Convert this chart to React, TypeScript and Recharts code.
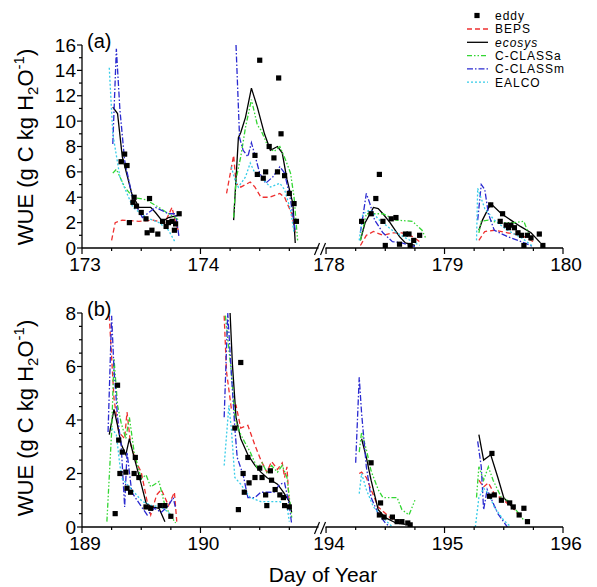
import { ComposedChart, Line, Scatter, XAxis, YAxis, ReferenceDot } from 'recharts'

type Pt = [number, number] | null

const FONT = '"Liberation Sans", Arial, sans-serif'

// ---- panel (a): days 173-174 | 178-179 ----
const eddyA: Pt[] = [
  [173.33, 6.8], [173.36, 7.4], [173.38, 6.5], [173.4, 2.0], [173.43, 3.6], [173.44, 4.0], [173.46, 3.3],
  [173.5, 2.8], [173.54, 2.3], [173.55, 1.2], [173.57, 3.9], [173.59, 1.4], [173.64, 1.1], [173.68, 2.1],
  [173.71, 1.7], [173.73, 2.0], [173.76, 2.1], [173.78, 1.4], [173.79, 1.9], [173.82, 2.7],
  [174.46, 7.3], [174.48, 5.8], [174.5, 14.8], [174.53, 5.5], [174.55, 6.0], [174.58, 8.0], [174.62, 7.1],
  [174.65, 6.0], [174.66, 13.4], [174.68, 9.0], [174.71, 5.7], [174.75, 4.3], [174.79, 3.5], [174.81, 2.1],
  [178.3, 2.1], [178.38, 2.7], [178.42, 3.9], [178.45, 5.8], [178.48, 2.1], [178.5, 0.2], [178.55, 2.3],
  [178.59, 2.4], [178.62, 0.3], [178.67, 1.1], [178.7, 1.1], [178.71, 0.2], [178.74, 0.6], [178.79, 1.0],
  [179.39, 3.4], [179.47, 2.1], [179.49, 2.7], [179.52, 1.8], [179.54, 1.6], [179.56, 1.8], [179.59, 1.6],
  [179.62, 1.2], [179.65, 1.0], [179.67, 0.2], [179.7, 1.0], [179.73, 0.8], [179.8, 1.1], [179.83, 0.2],
]
const bepsA: Pt[] = [
  [173.25, 0.6], [173.28, 2.0], [173.34, 2.2], [173.48, 2.1], [173.6, 2.2], [173.7, 2.0], [173.76, 3.2], [173.79, 2.0], [173.82, 1.2],
  null,
  [174.22, 4.3], [174.28, 7.3], [174.3, 5.1], [174.34, 4.8], [174.42, 5.2], [174.46, 4.8], [174.51, 4.0],
  [174.58, 4.0], [174.67, 4.3], [174.71, 4.0], [174.77, 2.7], [174.8, 1.2],
  null,
  [178.29, 0.2], [178.34, 1.0], [178.4, 1.3], [178.48, 1.0], [178.56, 1.2], [178.64, 1.2], [178.73, 0.9], [178.79, 0.5],
  null,
  [179.29, 0.6], [179.34, 1.3], [179.42, 1.4], [179.53, 1.2], [179.65, 1.0], [179.75, 0.5],
]
const ecosysA: Pt[] = [
  [173.26, 11.1], [173.3, 10.6], [173.34, 7.2], [173.42, 4.3], [173.48, 3.2], [173.58, 3.2], [173.62, 2.8],
  [173.68, 2.1], [173.73, 2.4], [173.82, 2.6],
  null,
  [174.28, 2.2], [174.32, 8.7], [174.34, 9.1], [174.38, 10.3], [174.43, 12.6], [174.48, 11.1], [174.54, 9.0],
  [174.59, 7.7], [174.65, 8.0], [174.69, 7.5], [174.73, 5.4], [174.78, 3.5], [174.8, 0.4],
  null,
  [178.29, 0.6], [178.33, 2.0], [178.4, 3.2], [178.44, 3.1], [178.48, 2.7], [178.54, 2.0], [178.62, 0.9], [178.67, 0.4], [178.75, 0.2],
  null,
  [179.29, 1.4], [179.32, 2.2], [179.39, 3.5], [179.48, 2.7], [179.56, 2.2], [179.64, 1.7], [179.73, 1.2], [179.81, 0.4],
]
const cclassaA: Pt[] = [
  [173.26, 5.9], [173.29, 6.2], [173.32, 5.6], [173.36, 4.8], [173.43, 4.0], [173.54, 3.8], [173.65, 3.2], [173.73, 2.7], [173.82, 2.2],
  null,
  [174.28, 2.4], [174.3, 5.4], [174.34, 7.2], [174.38, 9.5], [174.43, 11.7], [174.48, 9.7], [174.51, 9.3],
  [174.57, 8.0], [174.62, 7.6], [174.67, 8.0], [174.72, 6.9], [174.76, 5.9], [174.79, 4.0], [174.82, 0.6],
  null,
  [178.29, 0.6], [178.34, 2.7], [178.4, 2.7], [178.48, 2.7], [178.59, 2.2], [178.73, 2.1], [178.81, 1.4], [178.84, 0.8],
  null,
  [179.29, 1.2], [179.31, 2.1], [179.37, 2.2], [179.45, 2.0], [179.59, 2.0], [179.67, 2.1], [179.73, 0.6],
]
const cclassmA: Pt[] = [
  [173.26, 8.2], [173.29, 15.7], [173.32, 10.9], [173.36, 6.9], [173.43, 3.8], [173.51, 2.4], [173.62, 3.2],
  [173.73, 2.7], [173.79, 2.7], [173.82, 0.8],
  null,
  [174.3, 16.0], [174.33, 8.7], [174.36, 7.7], [174.4, 7.2], [174.43, 8.3], [174.46, 7.3], [174.5, 5.9],
  [174.55, 5.1], [174.61, 5.6], [174.67, 6.4], [174.71, 5.9], [174.76, 3.8], [174.8, 1.4],
  null,
  [178.29, 1.2], [178.34, 4.3], [178.37, 3.5], [178.41, 2.2], [178.48, 1.2], [178.56, 0.5], [178.64, 0.4], [178.75, 0.1],
  null,
  [179.28, 2.2], [179.31, 5.0], [179.34, 4.6], [179.37, 2.7], [179.42, 1.4], [179.53, 0.9], [179.65, 0.5], [179.75, 0.1],
]
const ealcoA: Pt[] = [
  [173.23, 14.2], [173.26, 9.0], [173.32, 5.6], [173.43, 3.2], [173.54, 2.4], [173.65, 2.0], [173.73, 1.4], [173.79, 0.4],
  null,
  [174.26, 6.4], [174.29, 5.4], [174.32, 4.8], [174.38, 5.6], [174.42, 6.7], [174.46, 5.9], [174.53, 5.4],
  [174.59, 4.8], [174.67, 5.1], [174.71, 4.6], [174.76, 3.0], [174.79, 1.2],
  null,
  [178.28, 0.6], [178.31, 2.7], [178.37, 3.0], [178.45, 2.2], [178.56, 1.4], [178.67, 0.8], [178.79, 0.2],
  null,
  [179.27, 0.6], [179.28, 4.7], [179.34, 3.1], [179.42, 2.2], [179.53, 1.4], [179.65, 0.8], [179.75, 0.1],
]

// ---- panel (b): days 189-190 | 194-195 ----
const eddyB: Pt[] = [
  [189.28, 0.5], [189.3, 5.3], [189.31, 3.25], [189.32, 2.0], [189.34, 2.8], [189.37, 2.05], [189.38, 1.45],
  [189.41, 1.3], [189.44, 2.0], [189.45, 2.6], [189.48, 1.85], [189.54, 0.75], [189.58, 0.7], [189.66, 0.8],
  [189.7, 0.8], [189.75, 0.4],
  [190.29, 3.7], [190.32, 0.65], [190.34, 6.15], [190.36, 2.0], [190.37, 1.3], [190.4, 2.6], [190.41, 1.65],
  [190.46, 1.85], [190.5, 2.2], [190.52, 1.85], [190.55, 1.2], [190.56, 0.8], [190.59, 2.1], [190.6, 1.75],
  [190.63, 1.4], [190.67, 1.2], [190.7, 1.1], [190.71, 0.8], [190.75, 0.75],
  [194.38, 2.4], [194.45, 0.45], [194.46, 0.9], [194.49, 0.37], [194.56, 0.37], [194.6, 0.2], [194.64, 0.2],
  [194.69, 0.15], [194.71, 0.08],
  [195.38, 1.15], [195.4, 2.75], [195.42, 1.2], [195.48, 1.0], [195.55, 0.9], [195.58, 0.75], [195.63, 0.45],
  [195.67, 0.7], [195.7, 0.2],
]
const bepsB: Pt[] = [
  [189.23, 7.9], [189.27, 4.8], [189.31, 3.55], [189.36, 3.3], [189.38, 4.3], [189.41, 3.1], [189.46, 2.4],
  [189.5, 2.05], [189.55, 0.95], [189.58, 0.45], [189.63, 1.2], [189.67, 1.4], [189.73, 0.8], [189.78, 1.3], [189.8, 0.2],
  null,
  [190.2, 7.9], [190.22, 5.8], [190.26, 4.45], [190.3, 4.55], [190.34, 3.7], [190.4, 3.8], [190.46, 3.05],
  [190.51, 2.5], [190.56, 2.05], [190.6, 2.45], [190.65, 2.15], [190.69, 2.4], [190.71, 1.85], [190.73, 2.25], [190.75, 0.8],
  null,
  [194.28, 2.0], [194.3, 2.05], [194.34, 1.85], [194.38, 1.4], [194.44, 0.75], [194.54, 0.35], [194.64, 0.15],
  null,
  [195.29, 1.75], [195.33, 1.5], [195.37, 1.65], [195.42, 1.25], [195.5, 1.0], [195.59, 0.65], [195.64, 0.37],
]
const ecosysB: Pt[] = [
  [189.23, 3.45], [189.27, 4.4], [189.3, 3.8], [189.33, 3.1], [189.37, 2.7], [189.4, 3.3], [189.44, 2.6],
  [189.5, 1.6], [189.54, 0.9], [189.59, 0.75], [189.65, 0.7], [189.7, 0.2],
  null,
  [190.25, 8.0], [190.27, 6.05], [190.3, 4.1], [190.34, 3.3], [190.4, 2.7], [190.46, 2.3], [190.51, 2.05],
  [190.56, 1.85], [190.65, 1.6], [190.7, 1.3], [190.75, 0.95], [190.77, 0.55],
  null,
  [194.3, 3.3], [194.34, 2.6], [194.38, 1.75], [194.44, 0.65], [194.5, 0.35], [194.59, 0.15], [194.67, 0.1],
  null,
  [195.29, 3.45], [195.33, 2.5], [195.39, 2.7], [195.45, 1.85], [195.5, 1.1], [195.59, 0.65],
]
const cclassaB: Pt[] = [
  [189.21, 0.2], [189.25, 3.55], [189.27, 6.3], [189.3, 4.55], [189.33, 3.9], [189.37, 3.3], [189.4, 4.1],
  [189.44, 2.8], [189.5, 1.8], [189.54, 1.95], [189.58, 1.5], [189.65, 1.7], [189.7, 0.8], [189.76, 0.35], [189.79, 0.15],
  null,
  [190.21, 7.9], [190.26, 5.8], [190.29, 4.1], [190.33, 3.55], [190.37, 3.2], [190.42, 2.8], [190.48, 2.2],
  [190.52, 2.4], [190.56, 2.05], [190.6, 2.3], [190.65, 2.05], [190.69, 2.3], [190.73, 1.85], [190.77, 0.35],
  null,
  [194.28, 2.8], [194.3, 3.55], [194.34, 2.9], [194.38, 2.1], [194.44, 1.4], [194.48, 1.1], [194.54, 1.1],
  [194.6, 1.1], [194.64, 0.65], [194.7, 0.45], [194.75, 1.0],
  null,
  [195.27, 1.1], [195.29, 2.25], [195.33, 1.75], [195.37, 2.25], [195.41, 1.75], [195.48, 1.1], [195.53, 1.0], [195.62, 0.55], [195.67, 0.25],
]
const cclassmB: Pt[] = [
  [189.22, 3.55], [189.25, 7.9], [189.27, 5.9], [189.3, 4.1], [189.33, 3.1], [189.36, 0.75], [189.38, 2.8],
  [189.42, 1.3], [189.48, 0.9], [189.55, 0.45], [189.61, 0.7], [189.67, 0.55], [189.73, 0.8], [189.77, 1.1], [189.79, 0.7],
  null,
  [190.2, 4.1], [190.23, 8.0], [190.26, 5.8], [190.29, 3.7], [190.31, 2.6], [190.36, 1.95], [190.4, 1.1],
  [190.46, 1.1], [190.51, 1.3], [190.56, 1.3], [190.62, 1.3], [190.67, 1.6], [190.71, 1.65], [190.75, 0.8], [190.77, 0.1],
  null,
  [194.25, 2.4], [194.28, 5.6], [194.3, 4.25], [194.34, 2.25], [194.38, 1.1], [194.44, 0.5], [194.5, 0.15], [194.54, 0.0],
  null,
  [195.28, 3.2], [195.31, 2.25], [195.33, 0.65], [195.36, 1.4], [195.39, 1.1], [195.45, 0.5], [195.53, 0.0],
]
const ealcoB: Pt[] = [
  [189.25, 3.7], [189.29, 3.45], [189.32, 2.3], [189.34, 1.8], [189.38, 1.6], [189.44, 1.3], [189.51, 0.95],
  [189.59, 0.8], [189.67, 0.75], [189.73, 0.55], [189.77, 0.3],
  null,
  [190.2, 2.3], [190.24, 4.55], [190.26, 3.7], [190.29, 1.85], [190.34, 1.6], [190.42, 1.1], [190.51, 0.95],
  [190.59, 0.95], [190.67, 0.95], [190.73, 0.8], [190.75, 0.2],
  null,
  [194.28, 1.25], [194.3, 2.0], [194.34, 1.4], [194.4, 0.75], [194.48, 0.35], [194.56, 0.0],
  null,
  [195.26, 0.0], [195.29, 1.1], [195.33, 1.45], [195.37, 1.25], [195.42, 0.75], [195.5, 0.25], [195.56, 0.0],
]

// ticks on the broken axis: 0..2 = first two days, 2.06..4.06 = second two days
const xTicks = [0, 0.25, 0.5, 0.75, 1, 1.25, 1.5, 1.75, 2.06, 2.31, 2.56, 2.81, 3.06, 3.31, 3.56, 3.81, 4.06]
const yTicksA = Array.from({ length: 17 }, (_, i) => i)
const yTicksB = Array.from({ length: 17 }, (_, i) => i / 2)

const styles = [
  { name: 'BEPS', color: '#ee3030', dash: '5 3', italic: false },
  { name: 'ecosys', color: '#000000', dash: undefined, italic: true },
  { name: 'C-CLASSa', color: '#33d633', dash: '5 2 1.5 2 1.5 2', italic: false },
  { name: 'C-CLASSm', color: '#2a2ad0', dash: '6 2 1.5 2', italic: false },
  { name: 'EALCO', color: '#35cce8', dash: '2 2', italic: false },
]

const shiftX = (base: number) => (d: number) => (d < base + 2.5 ? d - base : d - base - 2.94)

function toRows(pts: Pt[], fx: (d: number) => number) {
  const rows: { x: number; y: number | null }[] = []
  pts.forEach((p) => {
    if (p === null) rows.push({ x: rows[rows.length - 1].x + 0.005, y: null })
    else rows.push({ x: fx(p[0]), y: p[1] })
  })
  return rows
}

const Square = (props: any) => (
  <rect x={props.cx - 2.6} y={props.cy - 2.6} width={5.2} height={5.2} fill="#000" />
)

const BreakMark = (props: any) => {
  const { cx, cy } = props
  return (
    <g>
      <rect x={cx - 4} y={cy - 2} width={7} height={4} fill="#fff" />
      <line x1={cx - 8} y1={cy + 7} x2={cx - 3} y2={cy - 5} stroke="#000" strokeWidth={1.2} />
      <line x1={cx - 2} y1={cy + 7} x2={cx + 3} y2={cy - 5} stroke="#000" strokeWidth={1.2} />
    </g>
  )
}

const makeXTick = (base: number) => (props: any) => {
  const { x, y, payload } = props
  const v: number = payload.value
  const w = v < 2 ? v : v - 0.06
  const major = Math.abs(w - Math.round(w)) < 0.01
  const day = Math.round(v < 2 ? base + v : base + v + 2.94)
  return (
    <g>
      <line x1={x} y1={y} x2={x} y2={y + (major ? 6 : 3)} stroke="#000" strokeWidth={1.2} />
      {major && (
        <text x={x + 3} y={y + 23} textAnchor="middle" fontSize={19} fontFamily={FONT} fill="#000">
          {day}
        </text>
      )}
    </g>
  )
}

const YTick = (props: any) => {
  const { x, y, payload } = props
  const v: number = payload.value
  const major = Math.abs(v / 2 - Math.round(v / 2)) < 1e-6
  return (
    <g>
      <line x1={x} y1={y} x2={x - (major ? 5 : 3)} y2={y} stroke="#000" strokeWidth={1.2} />
      {major && (
        <text x={x - 6} y={y + 6.5} textAnchor="end" fontSize={19} fontFamily={FONT} fill="#000">
          {v}
        </text>
      )}
    </g>
  )
}

interface PanelProps {
  top: number
  height: number
  marginTop: number
  marginBottom: number
  base: number
  yMax: number
  yTicks: number[]
  tag: string
  eddy: Pt[]
  series: Pt[][]
}

function Panel({ top, height, marginTop, marginBottom, base, yMax, yTicks, tag, eddy, series }: PanelProps) {
  const fx = shiftX(base)
  const eddyRows = toRows(eddy, fx)
  return (
    <div style={{ position: 'absolute', left: 0, top, width: 597, height }}>
      <ComposedChart width={597} height={height} margin={{ top: marginTop, right: 34, bottom: marginBottom, left: 42 }}>
        <XAxis
          type="number"
          dataKey="x"
          domain={[0, 4.06]}
          ticks={xTicks}
          interval={0}
          allowDataOverflow
          height={25}
          tickSize={0}
          tickMargin={0}
          tickLine={false}
          tick={makeXTick(base)}
          axisLine={{ stroke: '#000', strokeWidth: 1.3 }}
        />
        <YAxis
          type="number"
          domain={[0, yMax]}
          ticks={yTicks}
          interval={0}
          allowDataOverflow
          width={40}
          tickSize={0}
          tickMargin={0}
          tickLine={false}
          tick={YTick}
          axisLine={{ stroke: '#000', strokeWidth: 1.3 }}
        />
        {series.map((pts, i) => (
          <Line
            key={styles[i].name}
            data={toRows(pts, fx)}
            dataKey="y"
            type="linear"
            stroke={styles[i].color}
            strokeWidth={1.3}
            strokeDasharray={styles[i].dash}
            dot={false}
            connectNulls={false}
            isAnimationActive={false}
          />
        ))}
        <Scatter data={eddyRows} dataKey="y" shape={Square} isAnimationActive={false} />
        <ReferenceDot x={2.03} y={0} ifOverflow="visible" shape={BreakMark} />
      </ComposedChart>
      <div
        style={{
          position: 'absolute',
          left: 87,
          top: marginTop - 14,
          fontFamily: FONT,
          fontSize: 20,
          lineHeight: '20px',
        }}
      >
        {tag}
      </div>
    </div>
  )
}

function YLabel({ cy }: { cy: number }) {
  return (
    <text transform={`translate(33,${cy}) rotate(-90)`} textAnchor="middle" fontSize={22} fontFamily={FONT} fill="#000">
      WUE (g C kg H
      <tspan dy={5} fontSize={15}>2</tspan>
      <tspan dy={-5}>O</tspan>
      <tspan dy={-9} fontSize={15}>-1</tspan>
      <tspan dy={9}>)</tspan>
    </text>
  )
}

export default function App() {
  return (
    <div style={{ position: 'absolute', left: 0, top: 0, width: 597, height: 587, background: '#fff' }}>
      <Panel
        top={0}
        height={280}
        marginTop={45}
        marginBottom={7}
        base={173}
        yMax={16}
        yTicks={yTicksA}
        tag="(a)"
        eddy={eddyA}
        series={[bepsA, ecosysA, cclassaA, cclassmA, ealcoA]}
      />
      <Panel
        top={270}
        height={290}
        marginTop={43}
        marginBottom={8}
        base={189}
        yMax={8}
        yTicks={yTicksB}
        tag="(b)"
        eddy={eddyB}
        series={[bepsB, ecosysB, cclassaB, cclassmB, ealcoB]}
      />
      <svg width={597} height={587} style={{ position: 'absolute', left: 0, top: 0, pointerEvents: 'none' }}>
        <YLabel cy={147} />
        <YLabel cy={418} />
        <text x={323} y={582} textAnchor="middle" fontSize={21} fontFamily={FONT} fill="#000">
          Day of Year
        </text>
        {/* legend */}
        <g fontFamily={FONT} fontSize={12} letterSpacing={1} fill="#000">
          <rect x={474.4} y={12.9} width={5.2} height={5.2} fill="#000" />
          <text x={495} y={19.5}>eddy</text>
          {styles.map((s, i) => {
            const cy = 29 + i * 13.3
            return (
              <g key={s.name}>
                <line x1={467} y1={cy} x2={488} y2={cy} stroke={s.color} strokeWidth={1.3} strokeDasharray={s.dash} />
                <text x={495} y={cy + 4.4} fontStyle={s.italic ? 'italic' : 'normal'}>
                  {s.name}
                </text>
              </g>
            )
          })}
        </g>
      </svg>
    </div>
  )
}
